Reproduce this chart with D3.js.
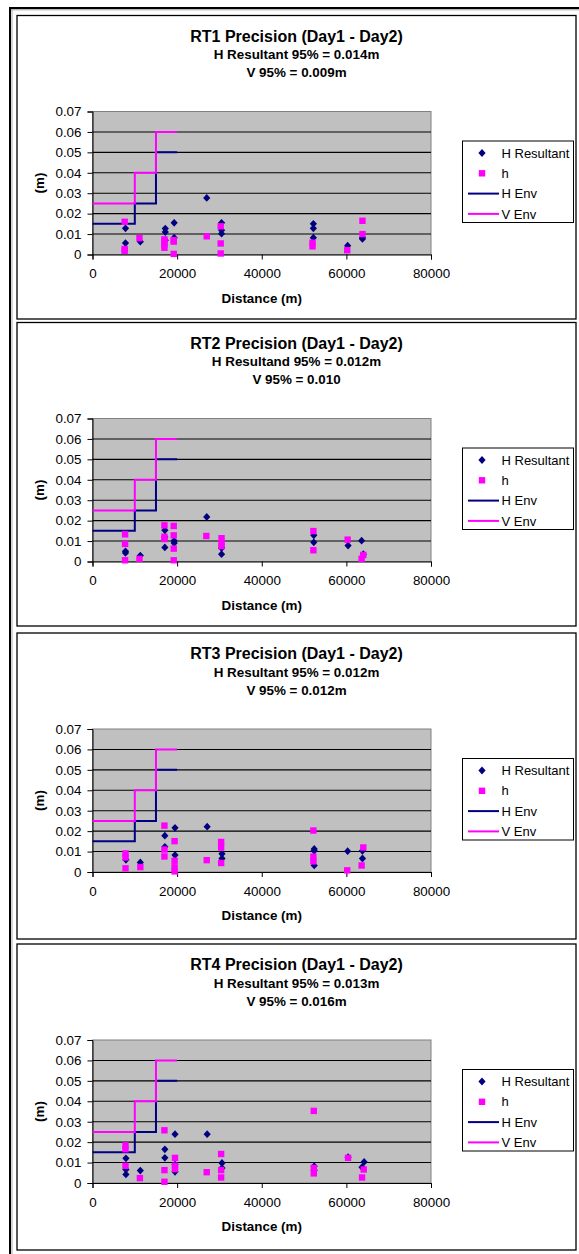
<!DOCTYPE html>
<html><head><meta charset="utf-8">
<script src="https://cdn.jsdelivr.net/npm/d3@7"></script>
<style>html,body{margin:0;padding:0;background:#fff;}svg{display:block;}</style>
</head><body>
<script>
// ---- data ----
const titles = ["RT1 Precision (Day1 - Day2)","RT2 Precision (Day1 - Day2)","RT3 Precision (Day1 - Day2)","RT4 Precision (Day1 - Day2)"];
const subtitles1 = ["H Resultant 95% = 0.014m","H Resultand 95% = 0.012m","H Resultant 95% = 0.012m","H Resultant 95% = 0.013m"];
const subtitles2 = ["V 95% = 0.009m","V 95% = 0.010","V 95% = 0.012m","V 95% = 0.016m"];
const xTicks = [0,20000,40000,60000,80000];
const yTicks = [0,0.01,0.02,0.03,0.04,0.05,0.06,0.07];
const legendLabels = ["H Resultant","h","H Env","V Env"];
const envX = [0,10000,10000,15000,15000,20000];
const hEnvY = [0.015,0.015,0.025,0.025,0.05,0.05];
const vEnvY = [0.025,0.025,0.04,0.04,0.06,0.06];

const rt1HRes = [[7800,0.0128],[7800,0.0056],[11300,0.0063],[17200,0.0127],[17200,0.011],[17200,0.007],[19300,0.0155],[19300,0.0082],[27000,0.0277],[30500,0.0155],[30500,0.0119],[30500,0.0102],[52200,0.015],[52200,0.0128],[52200,0.0082],[60300,0.0043],[63800,0.0076],[63800,0.0082]];
const rt1H = [[7600,0.016],[7600,0.0027],[7600,0.0018],[11100,0.008],[17000,0.0074],[17000,0.0063],[17000,0.005],[17000,0.0033],[19200,0.007],[19200,0.0063],[19200,0.0003],[27000,0.0089],[30300,0.0138],[30300,0.0054],[30300,0.0005],[52000,0.0058],[52000,0.004],[60200,0.0021],[63800,0.0165],[63800,0.01]];
const rt2HRes = [[7800,0.005],[7800,0.0042],[11300,0.0029],[17100,0.0153],[17100,0.012],[17100,0.0069],[19300,0.0101],[19300,0.009],[27000,0.0218],[30500,0.0066],[30500,0.0036],[52300,0.0128],[52300,0.0094],[60400,0.0078],[63600,0.0102],[64000,0.0036]];
const rt2H = [[7700,0.0133],[7700,0.0086],[7700,0.0006],[11100,0.0013],[17000,0.0177],[17000,0.0121],[17000,0.011],[19200,0.0174],[19200,0.0128],[19200,0.0063],[19200,0.0006],[26900,0.0125],[30500,0.0114],[30500,0.0088],[30500,0.0075],[52200,0.0149],[52200,0.0055],[60300,0.0107],[63600,0.0013],[64000,0.0032]];
const rt3HRes = [[7900,0.006],[11300,0.0047],[17100,0.0178],[17100,0.0123],[19500,0.0216],[19500,0.0083],[27100,0.0222],[30600,0.0089],[30600,0.0066],[52400,0.0113],[52400,0.0104],[52400,0.0032],[60300,0.0102],[63800,0.0104],[63800,0.0066]];
const rt3H = [[7800,0.0091],[7800,0.0071],[7800,0.0018],[11300,0.0024],[17000,0.0227],[17000,0.011],[17000,0.0076],[19400,0.0151],[19400,0.0055],[19400,0.0023],[19400,0.0003],[27000,0.0058],[30400,0.0147],[30400,0.012],[30400,0.0044],[52200,0.0203],[52200,0.0075],[52200,0.0052],[60200,0.0008],[64000,0.012],[63600,0.0032]];
const rt4HRes = [[7900,0.0121],[7900,0.0066],[7900,0.0042],[11300,0.0061],[17100,0.0165],[17100,0.0123],[19500,0.0239],[19500,0.009],[19500,0.0055],[27100,0.0239],[30600,0.0098],[30600,0.0074],[52400,0.0082],[52400,0.0063],[60400,0.0126],[64200,0.0103],[63700,0.0077]];
const rt4H = [[7800,0.0184],[7800,0.0165],[7800,0.0084],[11200,0.0024],[17000,0.0258],[17000,0.0063],[17000,0.0006],[19500,0.0123],[19500,0.0084],[19500,0.0068],[27000,0.0053],[30400,0.0142],[30400,0.0063],[30400,0.0027],[52300,0.0353],[52300,0.0074],[52300,0.0047],[60400,0.0123],[63700,0.0027],[64100,0.0066]];

const hResSeries = [rt1HRes, rt2HRes, rt3HRes, rt4HRes];
const hSeries = [rt1H, rt2H, rt3H, rt4H];

// ---- layout ----
const W = 579, H = 1254;
const panelTops = [15.5, 322.5, 633, 944];
const panelHeights = [303.5, 303.5, 306, 306];
const panelX0 = 17, panelX1 = 576;
const plotX0 = 92.5, plotX1 = 431;
const plotTopOff = 96, plotH = 143;
const NAVY = "#000080", MAG = "#FF00FF";
const FONT = "'Liberation Sans', Arial, Helvetica, sans-serif";

const svg = d3.select("body").append("svg").attr("width", W).attr("height", H)
  .style("font-family", FONT);

// outer frame
svg.append("line").attr("x1", 9).attr("x2", W).attr("y1", 8).attr("y2", 8).attr("stroke", "#000").attr("stroke-width", 2);
svg.append("line").attr("x1", 10).attr("x2", W).attr("y1", 9.8).attr("y2", 9.8).attr("stroke", "#999").attr("stroke-width", 1);
svg.append("line").attr("x1", 10).attr("x2", 10).attr("y1", 7).attr("y2", H).attr("stroke", "#000").attr("stroke-width", 2);
svg.append("line").attr("x1", 12).attr("x2", 12).attr("y1", 9).attr("y2", H).attr("stroke", "#aaa").attr("stroke-width", 1);

const xScale = d3.scaleLinear().domain([0, 80000]).range([plotX0, plotX1]);

titles.forEach((title, i) => {
  const top = panelTops[i];
  const g = svg.append("g");
  // panel border
  g.append("rect").attr("x", panelX0).attr("y", top).attr("width", panelX1 - panelX0).attr("height", panelHeights[i])
    .attr("fill", "#fff").attr("stroke", "#000").attr("stroke-width", 1.3);

  const pTop = top + plotTopOff, pBot = pTop + plotH;
  const y = d3.scaleLinear().domain([0, 0.07]).range([pBot, pTop]);

  // titles
  const cx = (panelX0 + panelX1) / 2;
  g.append("text").attr("x", cx).attr("y", top + 26.3).attr("text-anchor", "middle")
    .attr("font-size", 16).attr("font-weight", "bold").text(title);
  g.append("text").attr("x", cx).attr("y", top + 43.8).attr("text-anchor", "middle")
    .attr("font-size", 13.4).attr("font-weight", "bold").text(subtitles1[i]);
  g.append("text").attr("x", cx).attr("y", top + 61.8).attr("text-anchor", "middle")
    .attr("font-size", 13.4).attr("font-weight", "bold").text(subtitles2[i]);

  // plot area
  g.append("rect").attr("x", plotX0).attr("y", pTop).attr("width", plotX1 - plotX0).attr("height", plotH)
    .attr("fill", "#C0C0C0").attr("stroke", "#808080").attr("stroke-width", 1);

  // gridlines
  g.selectAll(".grid").data(yTicks.filter(t => t > 0 && t < 0.07)).enter().append("line")
    .attr("x1", plotX0).attr("x2", plotX1).attr("y1", d => y(d)).attr("y2", d => y(d))
    .attr("stroke", "#000").attr("stroke-width", 1.1);

  // axes
  const yAxis = d3.axisLeft(y).tickValues(yTicks).tickSize(5).tickPadding(6)
    .tickFormat(d => d === 0 ? "0" : d3.format(".2f")(d));
  const ya = g.append("g").attr("transform", `translate(${plotX0},0)`).call(yAxis);
  const xAxis = d3.axisBottom(xScale).tickValues(xTicks).tickSize(5).tickPadding(9).tickFormat(d3.format("d"));
  const xa = g.append("g").attr("transform", `translate(0,${pBot})`).call(xAxis);
  [ya, xa].forEach(a => {
    a.select(".domain").attr("stroke", "#000").attr("stroke-width", 1);
    a.selectAll(".tick line").attr("stroke", "#000");
    a.selectAll(".tick text").attr("fill", "#000").attr("font-size", 13.4).attr("font-family", FONT);
  });

  // axis titles
  g.append("text").attr("x", (plotX0 + plotX1) / 2).attr("y", pBot + 48.2).attr("text-anchor", "middle")
    .attr("font-size", 13.4).attr("font-weight", "bold").text("Distance (m)");
  g.append("text").attr("transform", `translate(43.5,${(pTop + pBot) / 2}) rotate(-90)`).attr("text-anchor", "middle")
    .attr("font-size", 13.4).attr("font-weight", "bold").text("(m)");

  // envelope lines
  const line = d3.line().x(d => xScale(d[0])).y(d => y(d[1]));
  g.append("path").datum(envX.map((x, k) => [x, hEnvY[k]])).attr("d", line)
    .attr("fill", "none").attr("stroke", NAVY).attr("stroke-width", 2);
  g.append("path").datum(envX.map((x, k) => [x, vEnvY[k]])).attr("d", line)
    .attr("fill", "none").attr("stroke", MAG).attr("stroke-width", 2);

  // markers
  const diamond = "M0,-3.9L3.6,0L0,3.9L-3.6,0Z";
  g.selectAll(".hres").data(hResSeries[i]).enter().append("path")
    .attr("d", diamond).attr("transform", d => `translate(${xScale(d[0])},${y(d[1])})`).attr("fill", NAVY);
  g.selectAll(".hsq").data(hSeries[i]).enter().append("rect")
    .attr("x", d => xScale(d[0]) - 3.2).attr("y", d => y(d[1]) - 3.2).attr("width", 6.4).attr("height", 6.4).attr("fill", MAG);

  // legend
  const lx = 462.5, ly = top + 125.5, lw = 111, lh = 81.5;
  const lg = g.append("g");
  lg.append("rect").attr("x", lx).attr("y", ly).attr("width", lw).attr("height", lh)
    .attr("fill", "#fff").attr("stroke", "#000").attr("stroke-width", 1);
  legendLabels.forEach((lab, k) => {
    const yy = ly + 12 + k * 20.3;
    if (k === 0) lg.append("path").attr("d", diamond).attr("transform", `translate(482,${yy})`).attr("fill", NAVY);
    if (k === 1) lg.append("rect").attr("x", 478.8).attr("y", yy - 3.2).attr("width", 6.4).attr("height", 6.4).attr("fill", MAG);
    if (k === 2) lg.append("line").attr("x1", 468).attr("x2", 499).attr("y1", yy).attr("y2", yy).attr("stroke", NAVY).attr("stroke-width", 2);
    if (k === 3) lg.append("line").attr("x1", 468).attr("x2", 499).attr("y1", yy).attr("y2", yy).attr("stroke", MAG).attr("stroke-width", 2);
    lg.append("text").attr("x", 501.5).attr("y", yy + 4.6).attr("font-size", 13).text(lab);
  });
});
</script>
</body></html>
